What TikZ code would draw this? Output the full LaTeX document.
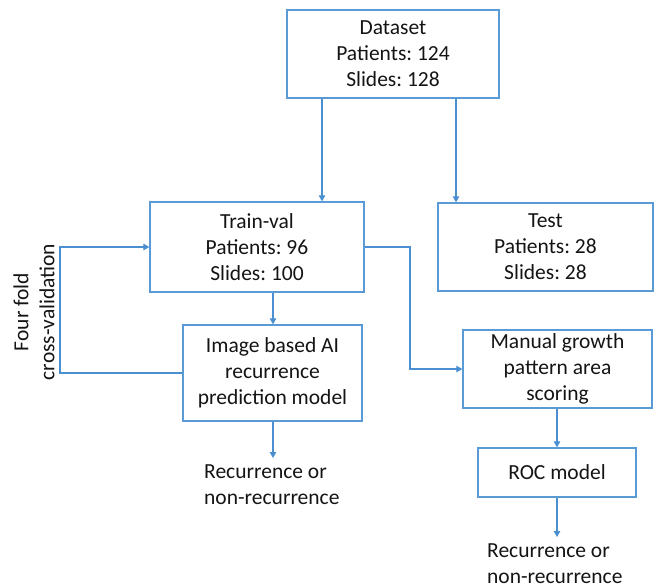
\documentclass[tikz,border=0pt]{standalone}
\usepackage{fontspec}
\setmainfont{Carlito}
\usetikzlibrary{arrows.meta}
\definecolor{boxc}{HTML}{5B9BD5}
\definecolor{linec}{HTML}{4A8FD0}
\definecolor{txt}{HTML}{141414}
\frenchspacing
\begin{document}
\begin{tikzpicture}[x=1pt,y=-1pt,
  every node/.style={font=\fontsize{21.5}{26}\selectfont, text=txt},
  box/.style={draw=boxc, line width=1.3pt, rectangle, inner sep=0pt, align=center},
  arr/.style={draw=linec, line width=1.1pt, -{Triangle[length=6pt,width=6.5pt]}}]
\useasboundingbox (0,0) rectangle (655,587);
% boxes
\node[box, minimum width=212pt, minimum height=88pt] (ds) at (393,54) {Dataset\\Patients: 124\\Slides: 128};
\node[box, minimum width=214pt, minimum height=90pt] (tv) at (257,247) {Train-val\\Patients: 96\\Slides: 100};
\node[box, minimum width=215pt, minimum height=88pt] (te) at (545.5,247) {Test\\Patients: 28\\Slides: 28};
\node[box, minimum width=179pt, minimum height=96pt] (ai) at (272.5,373) {Image based AI\\recurrence\\prediction model};
\node[box, minimum width=189pt, minimum height=78pt] (mg) at (557.5,369) {Manual growth\\pattern area\\scoring};
\node[box, minimum width=158pt, minimum height=49pt] (roc) at (557,472.5) {ROC model};
% texts
\node[anchor=base west, align=left, inner sep=0pt] (r1) at (204,504) {Recurrence or\\non-recurrence};
\node[anchor=base west, align=left, inner sep=0pt] (r2) at (487,583) {Recurrence or\\non-recurrence};
\node[rotate=90, align=center, inner sep=0pt] (ff) at (34,312) {Four fold\\cross-validation};
% coordinates
\coordinate (c1) at (322,0);
\coordinate (c2) at (456,0);
\coordinate (c3) at (273,0);
\coordinate (lp) at (60,0);
\coordinate (rp) at (410,0);
\coordinate (t1) at (273,458);
\coordinate (t2) at (557,537);
% connectors
\draw[arr] (ds.south -| c1) -- (tv.north -| c1);
\draw[arr] (ds.south -| c2) -- (te.north -| c2);
\draw[arr] (tv.south -| c3) -- (ai.north -| c3);
\draw[arr] (ai.west) -- (ai.west -| lp) -- (tv.west -| lp) -- (tv.west);
\draw[arr] (tv.east) -- (tv.east -| rp) -- (mg.west -| rp) -- (mg.west);
\draw[arr] (ai.south -| c3) -- (t1);
\draw[arr] (mg.south -| roc) -- (roc.north);
\draw[arr] (roc.south) -- (t2);
\end{tikzpicture}
\end{document}
